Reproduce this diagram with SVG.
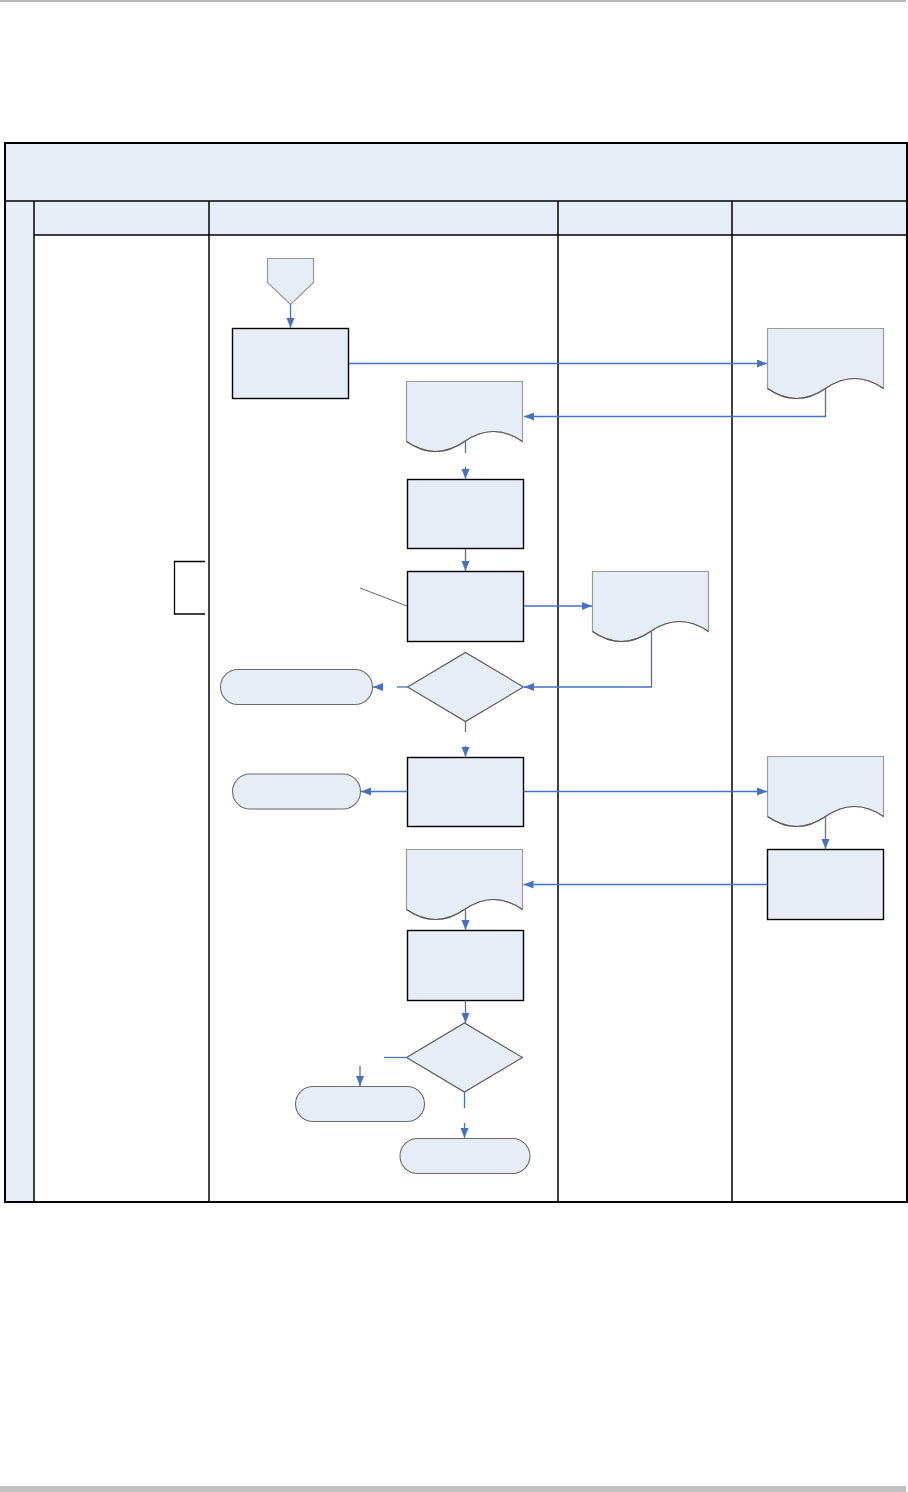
<svg xmlns="http://www.w3.org/2000/svg" width="908" height="1492" viewBox="0 0 908 1492">
<style>
.bg{fill:#ffffff}
.band{fill:#E6EDF7;stroke:none}
.grid{stroke:#000;stroke-width:1.5;fill:none}
.outer{stroke:#000;stroke-width:2;fill:none}
.box{fill:#E6EDF7;stroke:#000;stroke-width:1.4}
.doc{fill:#E6EDF7;stroke:#9A9A9A;stroke-width:1.2}
.wave{fill:none;stroke:#555;stroke-width:1.1}
.term{fill:#E6EDF7;stroke:#6A6A6A;stroke-width:1.1}
.dia{fill:#E6EDF7;stroke:#555;stroke-width:1.1}
.off{fill:#E6EDF7;stroke:#999;stroke-width:1.2}
.con{fill:none;stroke:#4472C4;stroke-width:1.3}
.ann{fill:none;stroke:#666;stroke-width:1}
.brk{fill:none;stroke:#000;stroke-width:1.3}
</style>
<defs>
<marker id="ah" markerUnits="userSpaceOnUse" markerWidth="11" markerHeight="9" refX="10" refY="4" orient="auto">
<path d="M0,0 L10,4 L0,8 Z" fill="#4472C4"/>
</marker>
<path id="docshape" d="M0,0 H116 V60 Q87,40 58,60 T0,60 Z"/>
</defs>
<rect class="bg" x="0" y="0" width="908" height="1492"/>
<line x1="0" y1="1" x2="906" y2="1" stroke="#B8B8B8" stroke-width="2"/>
<rect x="0" y="1486" width="906" height="6" fill="#C0C0C0"/>

<g id="table">
<rect class="band" x="5" y="143" width="902" height="92"/>
<rect class="band" x="5" y="201" width="29" height="1001"/>
<rect class="outer" x="5" y="143" width="902" height="1059"/>
<line class="grid" x1="5" y1="201" x2="907" y2="201"/>
<line class="grid" x1="34" y1="235" x2="907" y2="235"/>
<line class="grid" x1="34" y1="201" x2="34" y2="1202"/>
<line class="grid" x1="209" y1="201" x2="209" y2="1202"/>
<line class="grid" x1="558" y1="201" x2="558" y2="1202"/>
<line class="grid" x1="732" y1="201" x2="732" y2="1202"/>
</g>

<g id="bracket">
<path class="brk" d="M205,561.5 H174.5 V614 H205"/>
</g>
<g id="annotation">
<line class="ann" x1="360" y1="588" x2="407" y2="606"/>
</g>

<g id="start">
<path class="off" d="M267.5,258.5 H313.5 V282.5 L290.5,304.5 L267.5,282.5 Z"/>
</g>
<g id="box1"><rect class="box" x="232.5" y="328.5" width="116" height="70"/></g>
<g id="docTR1" transform="translate(767.5,328.5)"><use href="#docshape" class="doc"/><path class="wave" d="M116,60 Q87,40 58,60 T0,60"/></g>
<g id="doc2" transform="translate(406.5,381.5)"><use href="#docshape" class="doc"/><path class="wave" d="M116,60 Q87,40 58,60 T0,60"/></g>
<g id="box2"><rect class="box" x="407.5" y="479.5" width="116" height="69"/></g>
<g id="box3"><rect class="box" x="407.5" y="571.5" width="116" height="70"/></g>
<g id="doc3" transform="translate(592.5,571.5)"><use href="#docshape" class="doc"/><path class="wave" d="M116,60 Q87,40 58,60 T0,60"/></g>
<g id="dia1"><polygon class="dia" points="407.5,687 465.5,652.5 523.5,687 465.5,721.5"/></g>
<g id="term1"><rect class="term" x="220.5" y="669.5" width="152" height="35" rx="17.5"/></g>
<g id="box4"><rect class="box" x="407.5" y="757.5" width="116" height="69"/></g>
<g id="term2"><rect class="term" x="232.5" y="774" width="128" height="35" rx="17.5"/></g>
<g id="docTR2" transform="translate(767.5,756.5)"><use href="#docshape" class="doc"/><path class="wave" d="M116,60 Q87,40 58,60 T0,60"/></g>
<g id="box5"><rect class="box" x="767.5" y="849.5" width="116" height="70"/></g>
<g id="doc4" transform="translate(406.5,849.5)"><use href="#docshape" class="doc"/><path class="wave" d="M116,60 Q87,40 58,60 T0,60"/></g>
<g id="box6"><rect class="box" x="407.5" y="930.5" width="116" height="70"/></g>
<g id="dia2"><polygon class="dia" points="406.5,1057.5 464.5,1023 522.5,1057.5 464.5,1092"/></g>
<g id="term3"><rect class="term" x="295.5" y="1086.5" width="129" height="35" rx="17.5"/></g>
<g id="term4"><rect class="term" x="400" y="1138.5" width="130" height="35" rx="17.5"/></g>

<g id="connectors">
<path class="con" d="M290.5,304.5 V328" marker-end="url(#ah)"/>
<path class="con" d="M349,363.5 H767" marker-end="url(#ah)"/>
<path class="con" d="M825.5,388.5 V416.5 H524" marker-end="url(#ah)"/>
<path class="con" d="M465.5,441 V453"/>
<path class="con" d="M465.5,467 V479" marker-end="url(#ah)"/>
<path class="con" d="M465.5,549 V571" marker-end="url(#ah)"/>
<path class="con" d="M523.5,606 H592" marker-end="url(#ah)"/>
<path class="con" d="M651.5,631.5 V687 H524" marker-end="url(#ah)"/>
<path class="con" d="M407.5,687 H397"/>
<path class="con" d="M383,687 H373" marker-end="url(#ah)"/>
<path class="con" d="M465.5,721.5 V732"/>
<path class="con" d="M465.5,746 V757" marker-end="url(#ah)"/>
<path class="con" d="M407.5,791.5 H361" marker-end="url(#ah)"/>
<path class="con" d="M523.5,791.5 H767" marker-end="url(#ah)"/>
<path class="con" d="M825.5,816.5 V849" marker-end="url(#ah)"/>
<path class="con" d="M767.5,884.5 H523.5" marker-end="url(#ah)"/>
<path class="con" d="M465.5,909.5 V930" marker-end="url(#ah)"/>
<path class="con" d="M465.5,1000.5 V1023" marker-end="url(#ah)"/>
<path class="con" d="M406.5,1057.5 H384"/>
<path class="con" d="M360,1066 V1086" marker-end="url(#ah)"/>
<path class="con" d="M464.5,1092 V1108"/>
<path class="con" d="M464.5,1123 V1138" marker-end="url(#ah)"/>
</g>
</svg>
